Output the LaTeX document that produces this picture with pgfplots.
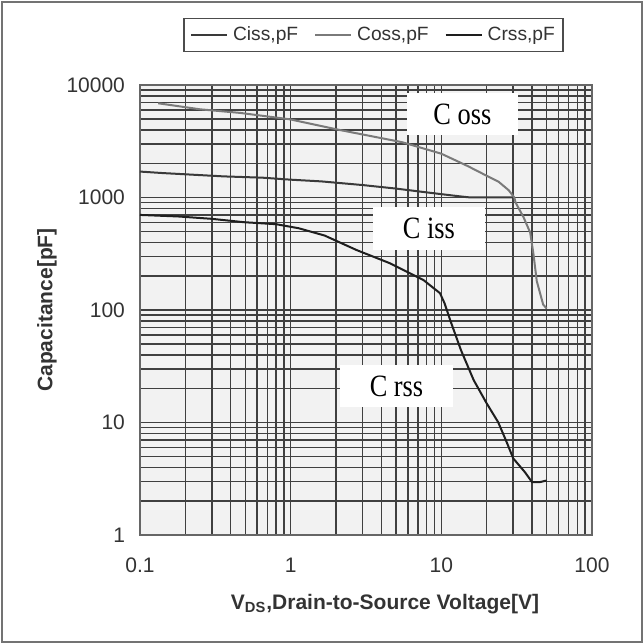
\documentclass[border=0pt]{standalone}
\usepackage{fontspec}
\setmainfont{Liberation Sans}
\newfontfamily\timesf{Liberation Serif}
\usepackage{pgfplots}
\pgfplotsset{compat=1.18}
\definecolor{plotbg}{HTML}{F2F2F2}
\definecolor{gridc}{HTML}{404040}
\definecolor{cissc}{HTML}{3A3A3A}
\definecolor{cossc}{HTML}{7A7A7A}
\definecolor{crssc}{HTML}{1E1E1E}
\definecolor{txtc}{HTML}{333333}

\begin{document}
\begin{tikzpicture}
\useasboundingbox (0,0) rectangle (322pt,322pt);
\draw[black!55, line width=1pt] (1pt,1pt) rectangle (321pt,321pt);
\begin{axis}[
    at={(70pt,54.5pt)}, anchor=south west,
    scale only axis, width=226pt, height=225pt,
    clip=false,
    xmode=log, ymode=log,
    xmin=0.1, xmax=100, ymin=1, ymax=10000,
    xtick={0.1,1,10,100}, xticklabels={0.1,1,10,100},
    ytick={1,10,100,1000,10000}, yticklabels={1,10,100,1000,10000},
    minor xtick={0.2,0.3,0.4,0.5,0.6,0.7,0.8,0.9,2,3,4,5,6,7,8,9,20,30,40,50,60,70,80,90},
    minor ytick={2,3,4,5,6,7,8,9,20,30,40,50,60,70,80,90,200,300,400,500,600,700,800,900,2000,3000,4000,5000,6000,7000,8000,9000},
    grid=both,
    major grid style={gridc, line width=0.75pt},
    minor grid style={gridc, line width=0.75pt},
    axis background/.style={fill=plotbg},
    axis line style={black!60, line width=0.8pt},
    tick style={draw=none},
    ticklabel style={font=\fontsize{10.5}{12}\selectfont, text=txtc},
    xticklabel style={yshift=-8pt},
    yticklabel style={xshift=-4pt},
    /pgf/number format/assume math mode=true,
    legend style={at={(axis description cs:0.5166,1.111)}, anchor=center,
        draw=black!70, line width=0.8pt, fill=white,
        font=\fontsize{9.6}{11}\selectfont, text=txtc,
        inner xsep=3pt, inner ysep=2pt,
        nodes={inner xsep=1pt},
        /tikz/every odd column/.append style={column sep=1.5pt},
        /tikz/every even column/.append style={column sep=7pt}},
    legend columns=3,
    legend image code/.code={\draw[#1] (0pt,0pt) -- (18pt,0pt);},
]
\addplot[cissc, line width=1pt] coordinates {
 (0.1,1700) (0.14,1650) (0.36,1540) (0.65,1500) (1.0,1440) (1.6,1390)
 (3,1290) (5,1200) (8,1110) (12,1040) (15,1005) (20,1000) (30,1000)
};
\addlegendentry{Ciss,pF}
\addplot[cossc, line width=1pt] coordinates {
 (0.132,6880) (0.25,6080) (0.46,5650) (0.99,4950) (2.12,3980) (5.5,3100)
 (10,2450) (15,1900) (20,1560) (24,1380) (28,1160) (30.5,1000) (31.1,903)
 (35.2,664) (38.9,488) (40.9,313) (43,181) (47.4,112) (50,103)
};
\addlegendentry{Coss,pF}
\addplot[crssc, line width=1pt] coordinates {
 (0.1,700) (0.18,678) (0.3,646) (0.49,603) (0.8,579) (1.13,533) (1.68,459)
 (2.74,341) (4.57,260) (7.6,185) (9.8,141) (10.5,115) (11.5,80) (13.5,44)
 (16.4,23.8) (20,14.8) (23.8,10.1) (26.9,6.9) (30,4.8) (36,3.6) (40,2.95)
 (45,2.95) (50,3.05)
};
\addlegendentry{Crss,pF}
\node[fill=white, minimum width=55.5pt, minimum height=21pt, inner sep=0pt] at (axis cs:13.8,5525) {};
\node[font=\timesf\fontsize{15.5}{15}\selectfont, xscale=0.85] at (axis cs:13.8,5525) {C oss};
\node[fill=white, minimum width=56pt, minimum height=21.5pt, inner sep=0pt] at (axis cs:8.27,530) {};
\node[font=\timesf\fontsize{15.5}{15}\selectfont, xscale=0.85] at (axis cs:8.27,530) {C iss};
\node[fill=white, minimum width=56.5pt, minimum height=21pt, inner sep=0pt] at (axis cs:5.04,21.1) {};
\node[font=\timesf\fontsize{15.5}{15}\selectfont, xscale=0.85] at (axis cs:5.04,21.1) {C rss};
\node[rotate=90, font=\bfseries\fontsize{10.5}{12}\selectfont, text=txtc] at (axis description cs:-0.206,0.5) {Capacitance[pF]};
\node[font=\bfseries\fontsize{10.5}{12}\selectfont, text=txtc] at (axis description cs:0.542,-0.153) {V\textsubscript{DS},Drain-to-Source Voltage[V]};
\end{axis}
\end{tikzpicture}
\end{document}
